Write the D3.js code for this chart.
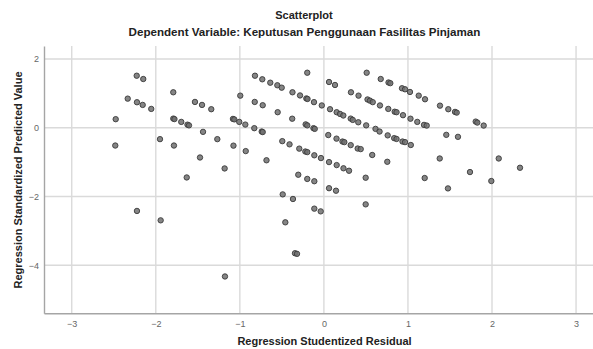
<!DOCTYPE html>
<html>
<head>
<meta charset="utf-8">
<script src="https://cdn.jsdelivr.net/npm/d3@7"></script>
<style>
  html, body { margin: 0; padding: 0; background: #fff; overflow: hidden; }
  text { font-family: "Liberation Sans", Arial, sans-serif; }
</style>
</head>
<body>
<svg id="chart" width="593" height="349"></svg>
<script>
// Regression Studentized Residual (x) and Regression Standardized Predicted Value (y)
const residual = [
  -2.477,-2.482,-2.334,-2.227,-2.149,-2.224,-2.156,-2.054,-1.950,-2.224,-1.942,-1.792,-1.792,-1.778,-1.697,-1.623,-1.605,-1.784,-1.632,-1.534,
  -1.450,-1.340,-1.438,-1.474,-1.268,-1.181,-1.177,-1.082,-1.066,-1.007,-0.995,-1.076,-0.935,-0.930,-0.828,-0.740,-0.728,-0.683,
  -0.820,-0.733,-0.638,-0.554,-0.502,-0.374,-0.284,-0.209,-0.195,-0.118,-0.025,0.073,0.152,0.192,0.231,0.319,0.343,0.409,0.503,0.614,0.662,0.759,0.836,0.864,0.935,0.965,1.034,
  -0.198,0.061,0.132,0.322,0.412,0.519,0.548,0.581,0.667,0.766,0.842,0.864,0.941,1.030,1.111,1.191,1.223,1.456,1.595,
  0.509,0.676,0.769,0.790,0.929,0.965,1.024,1.128,1.203,1.381,1.480,1.560,1.580,1.806,1.825,1.901,
  -0.823,-0.728,-0.550,-0.377,-0.217,-0.198,-0.124,-0.109,
  -0.495,-0.409,-0.293,-0.221,-0.198,-0.114,-0.035,0.061,0.152,0.233,0.299,
  0.052,0.150,0.221,0.243,0.319,0.402,0.438,0.575,0.754,
  -0.305,-0.198,-0.114,0.061,0.144,
  1.378,2.080,1.199,1.738,2.333,1.992,1.476,0.497,0.497,-0.114,-0.038,-0.490,-0.368,-0.459,-0.344,-0.320
];
const predicted = [
  0.250,-0.517,0.848,1.515,1.419,0.743,0.665,0.549,-0.331,-2.421,-2.694,1.033,0.267,0.253,0.171,0.090,0.070,-0.517,-1.446,0.752,
  0.665,0.540,-0.119,-0.865,-0.331,-1.184,-4.328,0.258,0.244,0.171,0.935,-0.520,0.093,-0.679,-0.012,-0.110,-0.125,-0.946,
  1.515,1.411,1.312,1.237,1.167,1.033,0.941,0.853,0.839,0.746,0.650,0.540,0.453,0.403,0.357,0.267,0.229,0.160,0.070,-0.032,-0.110,-0.221,-0.302,-0.325,-0.401,-0.418,-0.502,
  1.602,1.332,1.245,1.033,0.935,0.824,0.790,0.746,0.650,0.549,0.467,0.453,0.366,0.264,0.171,0.084,0.064,-0.206,-0.264,
  1.602,1.419,1.318,1.298,1.150,1.120,1.042,0.935,0.830,0.644,0.540,0.462,0.441,0.180,0.151,0.064,
  0.752,0.656,0.453,0.264,0.099,0.070,-0.012,-0.032,
  -0.389,-0.482,-0.607,-0.691,-0.708,-0.801,-0.882,-0.999,-1.086,-1.179,-1.251,
  -0.212,-0.316,-0.401,-0.418,-0.505,-0.604,-0.621,-0.792,-0.990,
  -1.367,-1.489,-1.556,-1.759,-1.832,
  -0.894,-0.894,-1.463,-1.289,-1.164,-1.550,-1.765,-1.454,-2.229,-2.354,-2.433,-1.939,-2.073,-2.752,-3.652,-3.669
];
const xTicks = [-3, -2, -1, 0, 1, 2, 3];
const yTicks = [2, 0, -2, -4];
const titleText = "Scatterplot";
const subtitleText = "Dependent Variable: Keputusan Penggunaan Fasilitas Pinjaman";
const xLabel = "Regression Studentized Residual";
const yLabel = "Regression Standardized Predicted Value";

const svg = d3.select("#chart");
const x = d3.scaleLinear().domain([-3.33, 3.33]).range([44, 603.8]);
const y = d3.scaleLinear().domain([2.38, -5.40]).range([46, 313.3]);

const data = residual.map((r, i) => ({ r, p: predicted[i] }));

// gridlines
svg.append("g").selectAll("line.v").data(xTicks).join("line")
  .attr("x1", d => x(d)).attr("x2", d => x(d))
  .attr("y1", y.range()[0]).attr("y2", y.range()[1])
  .attr("stroke", "#dadada").attr("stroke-width", 1.4);
svg.append("g").selectAll("line.h").data(yTicks).join("line")
  .attr("y1", d => y(d)).attr("y2", d => y(d))
  .attr("x1", x.range()[0]).attr("x2", x.range()[1])
  .attr("stroke", "#dadada").attr("stroke-width", 1.4);

// axes (lines only, labels without tick marks)
const xAxis = d3.axisBottom(x).tickValues(xTicks).tickSize(0).tickPadding(7)
  .tickFormat(d3.format("d"));
const gx = svg.append("g").attr("transform", `translate(0,${y.range()[1]})`).call(xAxis);
gx.select(".domain").attr("stroke", "#a5a5a5").attr("stroke-width", 1.4);
gx.selectAll("text").attr("font-size", 9).attr("fill", "#666")
  .style("font-family", "'Liberation Sans', Arial, sans-serif");

const yAxis = d3.axisLeft(y).tickValues(yTicks).tickSize(0).tickPadding(5)
  .tickFormat(d3.format("d"));
const gy = svg.append("g").attr("transform", `translate(${x.range()[0]},0)`).call(yAxis);
gy.select(".domain").attr("stroke", "#a5a5a5").attr("stroke-width", 1.4);
gy.selectAll("text").attr("font-size", 9).attr("fill", "#666")
  .style("font-family", "'Liberation Sans', Arial, sans-serif");

// points
svg.append("g").selectAll("circle").data(data).join("circle")
  .attr("cx", d => x(d.r)).attr("cy", d => y(d.p)).attr("r", 2.7)
  .attr("fill", "#707070").attr("fill-opacity", 0.85)
  .attr("stroke", "#3a3a3a").attr("stroke-width", 0.9);

// titles
svg.append("text").attr("x", 304).attr("y", 18.5).attr("text-anchor", "middle")
  .attr("font-size", 11).attr("font-weight", "bold").attr("fill", "#222").text(titleText);
svg.append("text").attr("x", 304.5).attr("y", 36).attr("text-anchor", "middle")
  .attr("font-size", 11.6).attr("font-weight", "bold").attr("fill", "#222").text(subtitleText);
svg.append("text").attr("x", 324.5).attr("y", 345).attr("text-anchor", "middle")
  .attr("font-size", 11).attr("font-weight", "bold").attr("fill", "#222").text(xLabel);
svg.append("text").attr("transform", "translate(22,180) rotate(-90)").attr("text-anchor", "middle")
  .attr("font-size", 11).attr("font-weight", "bold").attr("fill", "#222").text(yLabel);
</script>
</body>
</html>
